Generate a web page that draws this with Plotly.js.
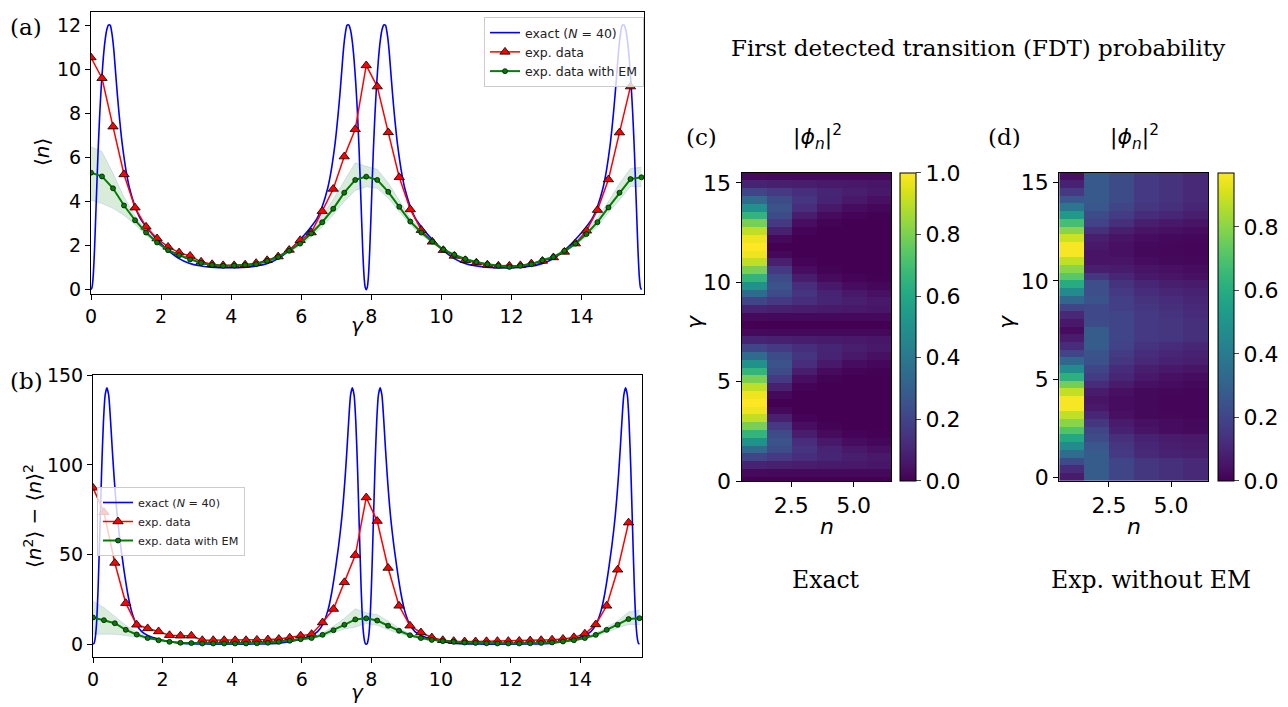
<!DOCTYPE html>
<html>
<head>
<meta charset="utf-8">
<script src="https://cdn.plot.ly/plotly-3.0.1.min.js"></script>
<style>html,body{margin:0;padding:0;background:#fff;}#chart{width:1288px;height:707px;}</style>
</head>
<body>
<div id="chart"></div>
<script>
// ---------------- data ----------------
// exact curve (N = 40), gamma sample points
const gammaExact = [
 0,0.03,0.06,0.1,0.15,0.2,0.25,0.3,0.35,0.4,0.45,0.5,0.55,0.6,0.65,0.7,0.75,0.8,0.85,0.9,1.0,1.1,1.25,1.4,1.6,1.8,2.0,2.2,2.5,2.8,3.1,3.4,3.7,3.927,
 4.154,4.454,4.754,5.054,5.354,5.654,5.854,6.054,6.254,6.454,6.604,6.754,6.854,6.954,7.004,7.054,7.104,7.154,7.204,7.254,7.304,7.354,7.404,7.454,7.504,7.554,7.604,7.654,7.704,7.754,7.794,7.824,7.854,
 7.884,7.914,7.954,8.004,8.054,8.104,8.154,8.204,8.254,8.304,8.354,8.404,8.454,8.504,8.554,8.604,8.654,8.704,8.754,8.854,8.954,9.104,9.254,9.454,9.654,9.854,10.054,10.354,10.654,10.954,11.254,11.554,11.781,
 12.008,12.308,12.608,12.908,13.208,13.508,13.708,13.908,14.108,14.308,14.458,14.608,14.708,14.808,14.858,14.908,14.958,15.008,15.058,15.108,15.158,15.208,15.258,15.308,15.358,15.408,15.458,15.508,15.558,15.608,15.648,15.678,15.708
];
// <n> exact
const meanExact = [
 0,0.1,0.55,1.8,4.0,6.2,8.0,9.4,10.5,11.3,11.8,12.02,12.0,11.6,10.9,9.9,8.9,8.0,7.2,6.5,5.4,4.6,3.8,3.25,2.8,2.42,2.08,1.78,1.42,1.2,1.08,1.02,1.0,1.0,
 1.0,1.02,1.08,1.2,1.42,1.78,2.08,2.42,2.8,3.25,3.8,4.6,5.4,6.5,7.2,8.0,8.9,9.9,10.9,11.6,12.0,12.02,11.8,11.3,10.5,9.4,8.0,6.2,4.0,1.8,0.55,0.1,0,
 0.1,0.55,1.8,4.0,6.2,8.0,9.4,10.5,11.3,11.8,12.02,12.0,11.6,10.9,9.9,8.9,8.0,7.2,6.5,5.4,4.6,3.8,3.25,2.8,2.42,2.08,1.78,1.42,1.2,1.08,1.02,1.0,1.0,
 1.0,1.02,1.08,1.2,1.42,1.78,2.08,2.42,2.8,3.25,3.8,4.6,5.4,6.5,7.2,8.0,8.9,9.9,10.9,11.6,12.0,12.02,11.8,11.3,10.5,9.4,8.0,6.2,4.0,1.8,0.55,0.1,0
];
// <n^2> - <n>^2 exact
const varExact = [
 0,0.5,3,11,33,65,98,124,139,143,139,126,110,95,82,71,62,54,47,40,28,19,11,7,4.6,3.3,2.2,1.4,0.6,0.25,0.1,0.03,0,0,
 0,0.03,0.1,0.25,0.6,1.4,2.2,3.3,4.6,7,11,19,28,40,47,54,62,71,82,95,110,126,139,143,139,124,98,65,33,11,3,0.5,0,
 0.5,3,11,33,65,98,124,139,143,139,126,110,95,82,71,62,54,47,40,28,19,11,7,4.6,3.3,2.2,1.4,0.6,0.25,0.1,0.03,0,0,
 0,0.03,0.1,0.25,0.6,1.4,2.2,3.3,4.6,7,11,19,28,40,47,54,62,71,82,95,110,126,139,143,139,124,98,65,33,11,3,0.5,0
];
// experimental gamma points (k*pi/10)
const gammaExp = [0,0.314,0.628,0.942,1.257,1.571,1.885,2.199,2.513,2.827,3.142,3.456,3.770,4.084,4.398,4.712,5.027,5.341,5.655,5.969,6.283,6.597,6.912,7.226,7.540,7.854,8.168,8.482,8.796,9.111,9.425,9.739,10.053,10.367,10.681,10.996,11.310,11.624,11.938,12.252,12.566,12.881,13.195,13.509,13.823,14.137,14.451,14.765,15.080,15.394,15.708];

const meanExp = [10.54,9.6,7.40,5.23,3.72,2.85,2.32,1.94,1.68,1.53,1.26,1.15,1.10,1.10,1.13,1.20,1.33,1.50,1.80,2.24,2.59,3.56,4.57,6.04,7.28,10.18,9.22,7.14,5.10,3.64,2.70,2.17,1.79,1.53,1.33,1.22,1.13,1.08,1.08,1.10,1.18,1.30,1.46,1.71,2.09,2.67,3.61,5.0,7.13,9.22];
const meanEM = [5.31,5.14,4.60,3.82,3.15,2.59,2.14,1.79,1.56,1.37,1.21,1.12,1.08,1.09,1.12,1.15,1.30,1.48,1.76,2.09,2.55,3.06,3.67,4.40,4.98,5.13,4.98,4.44,3.76,3.09,2.59,2.18,1.82,1.58,1.39,1.25,1.15,1.08,1.03,1.08,1.15,1.33,1.48,1.76,2.09,2.52,3.06,3.73,4.40,5.02,5.10];
const meanEMlow = [4.06,3.91,3.69,3.38,2.95,2.48,2.06,1.73,1.51,1.33,1.18,1.09,1.05,1.06,1.09,1.11,1.26,1.43,1.70,1.98,2.40,2.85,3.40,4.00,4.50,4.67,4.60,4.15,3.55,2.95,2.48,2.10,1.76,1.54,1.35,1.22,1.12,1.05,1.00,1.05,1.12,1.29,1.43,1.70,2.00,2.40,2.88,3.50,4.06,4.68,4.68];
const meanEMhigh = [6.49,6.26,5.28,4.21,3.35,2.70,2.22,1.85,1.61,1.41,1.24,1.15,1.11,1.12,1.15,1.19,1.34,1.53,1.82,2.20,2.72,3.35,4.10,4.95,5.76,5.60,5.46,4.85,4.05,3.25,2.70,2.26,1.88,1.62,1.43,1.28,1.18,1.11,1.06,1.11,1.18,1.37,1.53,1.82,2.18,2.66,3.26,4.00,4.82,5.50,5.56];

const varExp = [87.2,73.6,45.3,22.9,10.8,8.8,7.1,5.0,4.7,4.7,2.2,2.2,2.2,2.2,2.2,2.4,2.6,2.9,3.6,4.7,5.6,12.1,19.6,34.5,49.7,81.8,68.7,42.5,21.4,10.3,6.5,3.7,2.2,1.7,1.5,1.5,1.6,1.7,1.7,1.8,2.0,2.2,2.5,2.9,3.8,5.8,11.0,21.4,41.5,67.8];
const varEM = [14.9,13.4,11.7,8.0,5.4,3.4,2.2,1.3,0.8,0.6,0.4,0.4,0.4,0.4,0.4,0.5,0.8,1.3,1.9,2.8,3.4,5.2,7.8,10.8,13.8,14.4,13.2,10.3,7.5,5.0,3.4,2.4,1.7,1.3,0.9,0.7,0.5,0.4,0.4,0.4,0.5,0.7,1.0,1.5,2.2,3.4,5.2,8.0,10.8,14.0,14.5];
const varEMlow = [5.6,5.6,5.5,4.8,3.8,2.7,1.8,1.1,0.6,0.4,0.2,0.2,0.2,0.2,0.2,0.3,0.6,1.0,1.5,2.4,2.9,4.3,6.5,8.5,9.5,11.5,10.5,8.0,6.0,4.2,2.9,2.1,1.4,1.1,0.7,0.5,0.3,0.2,0.2,0.2,0.3,0.5,0.8,1.2,1.8,2.8,4.3,6.5,9.0,11.0,11.0];
const varEMhigh = [24.0,20.5,15.5,10.5,6.8,4.2,2.7,1.6,1.0,0.8,0.6,0.6,0.6,0.6,0.6,0.7,1.0,1.6,2.3,3.2,4.0,6.3,10.0,14.5,19.8,17.5,16.5,13.0,9.0,5.8,3.9,2.7,2.0,1.5,1.1,0.9,0.7,0.6,0.6,0.6,0.7,0.9,1.2,1.8,2.6,4.0,6.2,9.5,13.0,18.0,19.0];

// heatmaps: first detected transition probability |phi_n|^2
const nValues = [1,2,3,4,5,6];
const gammaRows = [0,0.393,0.785,1.178,1.571,1.963,2.356,2.749,3.142,3.534,3.927,4.320,4.712,5.105,5.498,5.890,6.283,6.676,7.069,7.461,7.854,8.247,8.639,9.032,9.425,9.817,10.210,10.603,10.996,11.388,11.781,12.174,12.566,12.959,13.352,13.744,14.137,14.530,14.923,15.315];
const phiExact = [
 [0,0,0,0,0,0],
 [0.024,0.023,0.023,0.022,0.022,0.021],
 [0.095,0.086,0.078,0.070,0.064,0.058],
 [0.206,0.164,0.130,0.103,0.082,0.065],
 [0.345,0.226,0.148,0.097,0.064,0.042],
 [0.5,0.25,0.125,0.063,0.031,0.016],
 [0.655,0.226,0.078,0.027,0.009,0.003],
 [0.794,0.164,0.034,0.007,0.001,0],
 [0.905,0.086,0.008,0.001,0,0],
 [0.976,0.023,0.001,0,0,0],
 [1,0,0,0,0,0],
 [0.976,0.023,0.001,0,0,0],
 [0.905,0.086,0.008,0.001,0,0],
 [0.794,0.164,0.034,0.007,0.001,0],
 [0.655,0.226,0.078,0.027,0.009,0.003],
 [0.5,0.25,0.125,0.063,0.031,0.016],
 [0.345,0.226,0.148,0.097,0.064,0.042],
 [0.206,0.164,0.130,0.103,0.082,0.065],
 [0.095,0.086,0.078,0.070,0.064,0.058],
 [0.024,0.023,0.023,0.022,0.022,0.021],
 [0,0,0,0,0,0],
 [0.024,0.023,0.023,0.022,0.022,0.021],
 [0.095,0.086,0.078,0.070,0.064,0.058],
 [0.206,0.164,0.130,0.103,0.082,0.065],
 [0.345,0.226,0.148,0.097,0.064,0.042],
 [0.5,0.25,0.125,0.063,0.031,0.016],
 [0.655,0.226,0.078,0.027,0.009,0.003],
 [0.794,0.164,0.034,0.007,0.001,0],
 [0.905,0.086,0.008,0.001,0,0],
 [0.976,0.023,0.001,0,0,0],
 [1,0,0,0,0,0],
 [0.976,0.023,0.001,0,0,0],
 [0.905,0.086,0.008,0.001,0,0],
 [0.794,0.164,0.034,0.007,0.001,0],
 [0.655,0.226,0.078,0.027,0.009,0.003],
 [0.5,0.25,0.125,0.063,0.031,0.016],
 [0.345,0.226,0.148,0.097,0.064,0.042],
 [0.206,0.164,0.130,0.103,0.082,0.065],
 [0.095,0.086,0.078,0.070,0.064,0.058],
 [0.024,0.023,0.023,0.022,0.022,0.021]
];
const phiExpNoEM = [
 [0.07,0.28,0.20,0.15,0.13,0.11],
 [0.12,0.28,0.20,0.15,0.13,0.11],
 [0.22,0.28,0.20,0.15,0.13,0.11],
 [0.34,0.28,0.16,0.11,0.09,0.08],
 [0.46,0.26,0.15,0.10,0.08,0.07],
 [0.58,0.22,0.13,0.09,0.07,0.06],
 [0.70,0.20,0.09,0.05,0.03,0.025],
 [0.80,0.15,0.07,0.04,0.03,0.02],
 [0.88,0.10,0.04,0.02,0.015,0.01],
 [0.96,0.06,0.03,0.02,0.01,0.01],
 [0.96,0.05,0.03,0.02,0.01,0.01],
 [0.88,0.07,0.04,0.02,0.015,0.01],
 [0.76,0.12,0.07,0.04,0.03,0.02],
 [0.62,0.17,0.10,0.06,0.04,0.03],
 [0.46,0.20,0.12,0.08,0.06,0.05],
 [0.32,0.24,0.15,0.11,0.09,0.08],
 [0.20,0.25,0.17,0.12,0.10,0.09],
 [0.12,0.28,0.19,0.14,0.12,0.10],
 [0.07,0.28,0.20,0.16,0.15,0.13],
 [0.03,0.28,0.20,0.16,0.15,0.13],
 [0.06,0.22,0.20,0.16,0.15,0.13],
 [0.11,0.21,0.20,0.16,0.14,0.12],
 [0.20,0.21,0.18,0.15,0.13,0.11],
 [0.32,0.25,0.18,0.14,0.12,0.10],
 [0.46,0.23,0.16,0.12,0.10,0.09],
 [0.60,0.23,0.14,0.10,0.08,0.07],
 [0.72,0.15,0.10,0.06,0.05,0.04],
 [0.80,0.08,0.07,0.05,0.04,0.03],
 [0.88,0.05,0.05,0.03,0.02,0.015],
 [0.96,0.05,0.04,0.02,0.015,0.01],
 [0.96,0.06,0.04,0.02,0.015,0.01],
 [0.90,0.08,0.05,0.03,0.02,0.015],
 [0.80,0.13,0.08,0.05,0.04,0.03],
 [0.68,0.19,0.13,0.08,0.06,0.05],
 [0.52,0.22,0.17,0.12,0.10,0.08],
 [0.38,0.26,0.20,0.15,0.13,0.10],
 [0.26,0.27,0.22,0.16,0.14,0.11],
 [0.16,0.27,0.22,0.16,0.14,0.11],
 [0.09,0.27,0.22,0.16,0.14,0.11],
 [0.04,0.27,0.22,0.16,0.14,0.11]
];
const xTicks = [0,2,4,6,8,10,12,14];
const yTicksA = [0,2,4,6,8,10,12];
const yTicksB = [0,50,100,150];
const labels = {exact: 'exact (<i>N</i> = 40)', exp: 'exp. data', em: 'exp. data with EM'};

// ---------------- plot ----------------
const W = 1288, H = 707;
const px = v => v / W, py = v => 1 - v / H;
const F = '"DejaVu Sans", sans-serif';
const SERIF = '"DejaVu Serif", serif';

function lineTraces(xa, ya, yExact, yExp, yEM, yLow, yHigh, legendName) {
  return [
    {x: gammaExp, y: yLow, xaxis: xa, yaxis: ya, mode: 'lines', line: {color: 'rgba(110,130,255,0.22)', width: 1}, showlegend: false, hoverinfo: 'skip'},
    {x: gammaExp, y: yHigh, xaxis: xa, yaxis: ya, mode: 'lines', fill: 'tonexty', fillcolor: 'rgba(0,128,0,0.15)', line: {color: 'rgba(110,130,255,0.22)', width: 1}, showlegend: false, hoverinfo: 'skip'},
    {x: gammaExact, y: yExact, xaxis: xa, yaxis: ya, mode: 'lines', name: labels.exact, legend: legendName, legendrank: 1, line: {color: '#0000ff', width: 1.6, shape: 'spline', smoothing: 0.6}},
    {x: gammaExp.slice(0, yExp.length), y: yExp, xaxis: xa, yaxis: ya, mode: 'lines+markers', name: labels.exp, legend: legendName, legendrank: 2, line: {color: '#ff0000', width: 1.5}, marker: {symbol: 'triangle-up', size: 9, color: '#ff0000', line: {color: '#000', width: 0.8}}},
    {x: gammaExp, y: yEM, xaxis: xa, yaxis: ya, mode: 'lines+markers', name: labels.em, legend: legendName, legendrank: 3, line: {color: '#008000', width: 2}, marker: {symbol: 'circle', size: 5, color: '#008000', line: {color: '#000', width: 0.7}}}
  ];
}

const data = [
  ...lineTraces('x', 'y', meanExact, meanExp, meanEM, meanEMlow, meanEMhigh, 'legend'),
  ...lineTraces('x2', 'y2', varExact, varExp, varEM, varEMlow, varEMhigh, 'legend2'),
  {type: 'heatmap', x: nValues, y: gammaRows, z: phiExact, xaxis: 'x3', yaxis: 'y3', colorscale: 'Viridis', zmin: 0, zmax: 1,
   colorbar: {x: px(900), xanchor: 'left', xpad: 0, ypad: 0, y: py(326.85), yanchor: 'middle', len: (481 - 172.7) / H, lenmode: 'fraction', thickness: 15.5,
     outlinewidth: 1, outlinecolor: '#000', ticks: 'outside', ticklen: 5, tickvals: [0, 0.2, 0.4, 0.6, 0.8, 1.0], ticktext: ['0.0','0.2','0.4','0.6','0.8','1.0'], tickfont: {family: F, size: 22, color: '#000'}}, showscale: true},
  {type: 'heatmap', x: nValues, y: gammaRows, z: phiExpNoEM, xaxis: 'x4', yaxis: 'y4', colorscale: 'Viridis', zmin: 0, zmax: 0.97,
   colorbar: {x: px(1217.7), xanchor: 'left', xpad: 0, ypad: 0, y: py(326.85), yanchor: 'middle', len: (481 - 172.7) / H, lenmode: 'fraction', thickness: 15.5,
     outlinewidth: 1, outlinecolor: '#000', ticks: 'outside', ticklen: 5, tickvals: [0, 0.2, 0.4, 0.6, 0.8], ticktext: ['0.0','0.2','0.4','0.6','0.8'], tickfont: {family: F, size: 22, color: '#000'}}, showscale: true}
];

const axBase = {showline: true, linecolor: '#000', linewidth: 1, mirror: true, ticks: 'outside', ticklen: 5, tickwidth: 1, tickcolor: '#000', showgrid: false, zeroline: false, tickfont: {family: F, size: 19, color: '#000'}, fixedrange: true};
const hmBase = Object.assign({}, axBase, {tickfont: {family: F, size: 22, color: '#000'}});

const ann = (x, y, text, size, font, angle) => ({xref: 'paper', yref: 'paper', x: px(x), y: py(y), xanchor: 'center', yanchor: 'middle', text: text, showarrow: false, textangle: angle || 0, font: {family: font || F, size: size, color: '#000'}});

const legendStyle = (x, y, size) => ({x: px(x), y: py(y), xanchor: 'left', yanchor: 'top', bgcolor: 'rgba(255,255,255,0.8)', bordercolor: '#cccccc', borderwidth: 1, font: {family: F, size: size, color: '#222'}, itemwidth: 30, tracegroupgap: 0, traceorder: 'normal'});

const layout = {
  width: W, height: H, margin: {l: 0, r: 0, t: 0, b: 0}, paper_bgcolor: '#fff', plot_bgcolor: '#fff', showlegend: true,
  xaxis: Object.assign({}, axBase, {domain: [px(91), px(644)], anchor: 'y', range: [0, 15.78], tickvals: xTicks}),
  yaxis: Object.assign({}, axBase, {domain: [py(294), py(11.5)], anchor: 'x', range: [-0.2, 12.63], tickvals: yTicksA}),
  xaxis2: Object.assign({}, axBase, {domain: [px(93), px(642)], anchor: 'y2', range: [0, 15.78], tickvals: xTicks}),
  yaxis2: Object.assign({}, axBase, {domain: [py(657), py(375)], anchor: 'x2', range: [-7.15, 150.15], tickvals: yTicksB}),
  xaxis3: Object.assign({}, hmBase, {domain: [px(741.5), px(891)], anchor: 'y3', range: [0.5, 6.5], tickvals: [2.5, 5], ticktext: ['2.5', '5.0']}),
  yaxis3: Object.assign({}, hmBase, {domain: [py(481), py(172.7)], anchor: 'x3', range: [0, 15.51], tickvals: [0, 5, 10, 15]}),
  xaxis4: Object.assign({}, hmBase, {domain: [px(1059.2), px(1208.3)], anchor: 'y4', range: [0.5, 6.5], tickvals: [2.5, 5], ticktext: ['2.5', '5.0']}),
  yaxis4: Object.assign({}, hmBase, {domain: [py(481), py(172.7)], anchor: 'x4', range: [-0.196, 15.51], tickvals: [0, 5, 10, 15]}),
  legend: legendStyle(484, 17, 12.5),
  legend2: legendStyle(97, 487, 11.2),
  annotations: [
    ann(26, 27, '(a)', 23, SERIF),
    ann(26, 381, '(b)', 23, SERIF),
    ann(702, 137, '(c)', 23, SERIF),
    ann(1004, 137, '(d)', 23, SERIF),
    ann(978, 48, 'First detected transition (FDT) probability', 23, SERIF),
    ann(818, 137, '|<i>ϕ</i><sub><i>n</i></sub>|<sup>2</sup>', 22),
    ann(1134, 137, '|<i>ϕ</i><sub><i>n</i></sub>|<sup>2</sup>', 22),
    ann(826, 580, 'Exact', 23.5, SERIF),
    ann(1151, 580, 'Exp. without EM', 23.5, SERIF),
    ann(42, 152, '⟨<i>n</i>⟩', 20, F, -90),
    ann(357, 325, '<i>γ</i>', 20),
    ann(33, 516, '⟨<i>n</i><sup>2</sup>⟩ − ⟨<i>n</i>⟩<sup>2</sup>', 20, F, -90),
    ann(357, 692, '<i>γ</i>', 20),
    ann(827, 526, '<i>n</i>', 22),
    ann(694, 322, '<i>γ</i>', 22, F, -90),
    ann(1134, 526, '<i>n</i>', 22),
    ann(1006, 322, '<i>γ</i>', 22, F, -90)
  ]
};

Plotly.newPlot('chart', data, layout, {staticPlot: true, displayModeBar: false});
</script>
</body>
</html>
